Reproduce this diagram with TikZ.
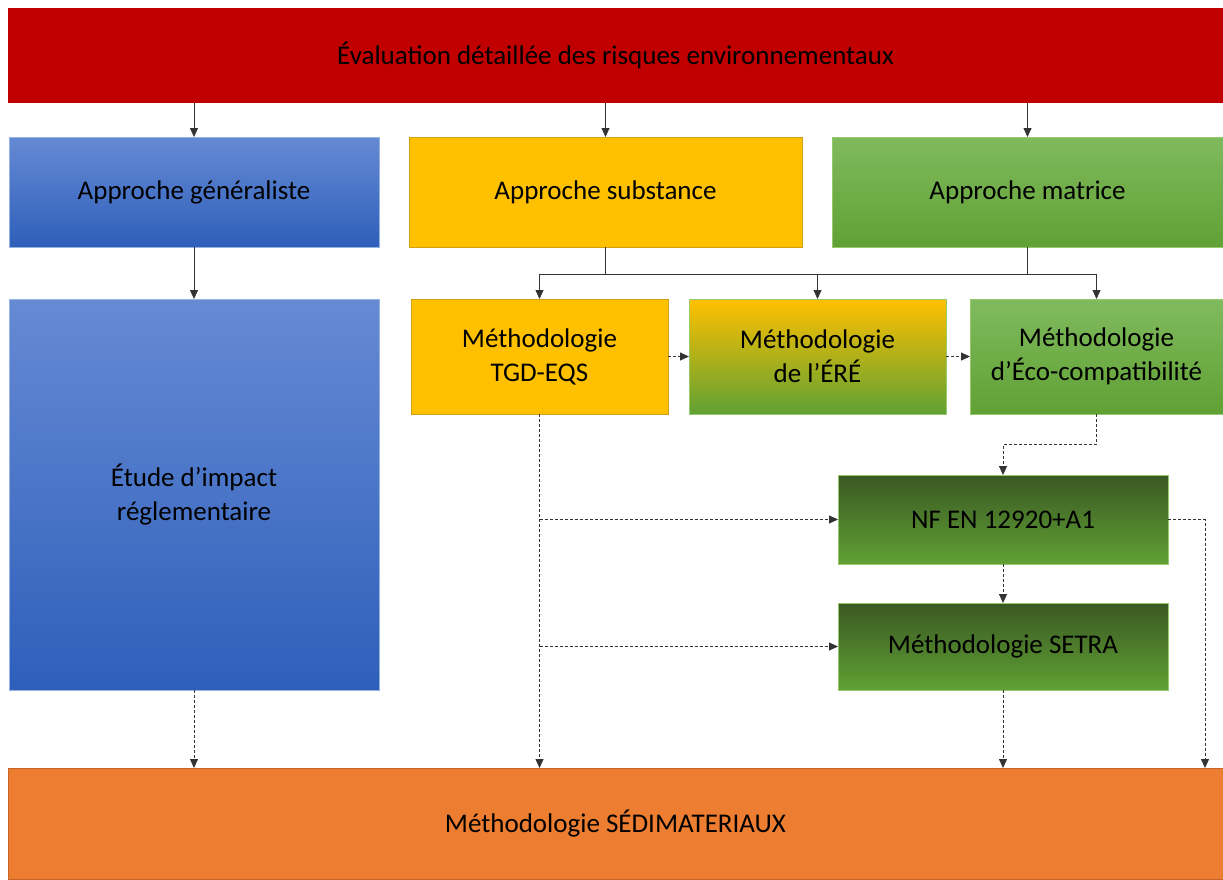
\documentclass[tikz,border=0pt]{standalone}
\usepackage{fontspec}
\setmainfont{Carlito}
\usetikzlibrary{arrows.meta}
\definecolor{cred}{RGB}{192,0,0}
\definecolor{cgold}{RGB}{255,192,0}
\definecolor{cgoldb}{RGB}{210,160,20}
\definecolor{cbluet}{RGB}{102,138,212}
\definecolor{cblueb}{RGB}{46,95,186}
\definecolor{cblueline}{RGB}{150,178,225}
\definecolor{cgreent}{RGB}{128,186,94}
\definecolor{cgreenb}{RGB}{96,161,52}
\definecolor{cgreenline}{RGB}{150,200,110}
\definecolor{cdark}{RGB}{58,88,35}
\definecolor{corange}{RGB}{237,125,49}
\definecolor{corangeb}{RGB}{200,100,40}
\definecolor{cmid}{RGB}{140,170,40}
\tikzset{
  box/.style={rectangle,inner sep=0pt,outer sep=0pt,align=center,text=black,
    font=\fontsize{27}{34}\selectfont,line width=0.8pt},
  bluebox/.style={box,draw=cblueline,top color=cbluet,bottom color=cblueb},
  goldbox/.style={box,draw=cgoldb,fill=cgold},
  greenbox/.style={box,draw=cgreenline,top color=cgreent,bottom color=cgreenb},
  darkbox/.style={box,draw=cgreenline,top color=cdark,middle color=cdark!90!cgreenb,bottom color=cgreenb},
  erebox/.style={box,draw=cgreenline,top color=cgold,middle color=cmid,bottom color=cgreenb},
  arr/.style={-{Triangle[length=9pt,width=8pt]},line width=0.8pt,draw=black!80},
  darr/.style={arr,dash pattern=on 3pt off 2pt},
  seg/.style={line width=0.8pt,draw=black!80}
}
\begin{document}
\begin{tikzpicture}[x=1pt,y=-1pt]
\useasboundingbox (0,0) rectangle (1223,879);
\node[box,fill=cred,minimum width=1215pt,minimum height=95pt] (top) at (615.5,55.5) {Évaluation détaillée des risques environnementaux};
\node[bluebox,minimum width=370pt,minimum height=110pt] (gen) at (194,192) {Approche généraliste};
\node[goldbox,minimum width=393pt,minimum height=110pt] (sub) at (605.5,192) {Approche substance};
\node[greenbox,minimum width=391pt,minimum height=110pt] (mat) at (1027.5,192) {Approche matrice};
\node[bluebox,minimum width=370pt,minimum height=391pt] (etude) at (194,494.5) {Étude d’impact\\réglementaire};
\node[goldbox,minimum width=257pt,minimum height=115pt] (tgd) at (539.5,356.5) {Méthodologie\\TGD-EQS};
\node[erebox,minimum width=257pt,minimum height=115pt] (ere) at (817.5,356.5) {Méthodologie\\de l’ÉRÉ};
\node[greenbox,minimum width=253pt,minimum height=115pt] (eco) at (1096.5,356.5) {Méthodologie\\d’Éco-compatibilité};
\node[darkbox,minimum width=330pt,minimum height=89pt] (nf) at (1003,519.5) {NF EN 12920+A1};
\node[darkbox,minimum width=330pt,minimum height=87pt] (setra) at (1003,646.5) {Méthodologie SETRA};
\node[box,fill=corange,draw=corangeb,minimum width=1215pt,minimum height=111pt] (bot) at (615.5,823.5) {Méthodologie SÉDIMATERIAUX};
% solid arrows from top
\draw[arr] (gen.north |- top.south) -- (gen.north);
\draw[arr] (sub.north |- top.south) -- (sub.north);
\draw[arr] (mat.north |- top.south) -- (mat.north);
\draw[arr] (gen) -- (etude);
% branching
\coordinate (j1) at (605.5,274);
\coordinate (j2) at (1027.5,274);
\draw[seg] (sub.south) -- (j1);
\draw[seg] (mat.south) -- (j2);
\draw[seg] (tgd.north |- j1) -- (eco.north |- j1);
\draw[arr] (tgd.north |- j1) -- (tgd.north);
\draw[arr] (ere.north |- j1) -- (ere.north);
\draw[arr] (eco.north |- j1) -- (eco.north);
% dashed
\draw[darr] (tgd) -- (ere);
\draw[darr] (ere) -- (eco);
\coordinate (ecob) at (1096.5,444);
\draw[darr] (eco.south) -- (ecob) -| (nf.north);
\draw[darr] (tgd.south) -- (tgd.south |- bot.north);
\draw[darr] (tgd.south |- nf.west) -- (nf.west);
\draw[darr] (tgd.south |- setra.west) -- (setra.west);
\draw[darr] (nf) -- (setra);
\draw[darr] (setra.south) -- (setra.south |- bot.north);
\coordinate (nfr) at (1205,519.5);
\draw[darr] (nf.east) -- (nfr) -- (nfr |- bot.north);
\draw[darr] (etude.south) -- (etude.south |- bot.north);
\end{tikzpicture}
\end{document}
